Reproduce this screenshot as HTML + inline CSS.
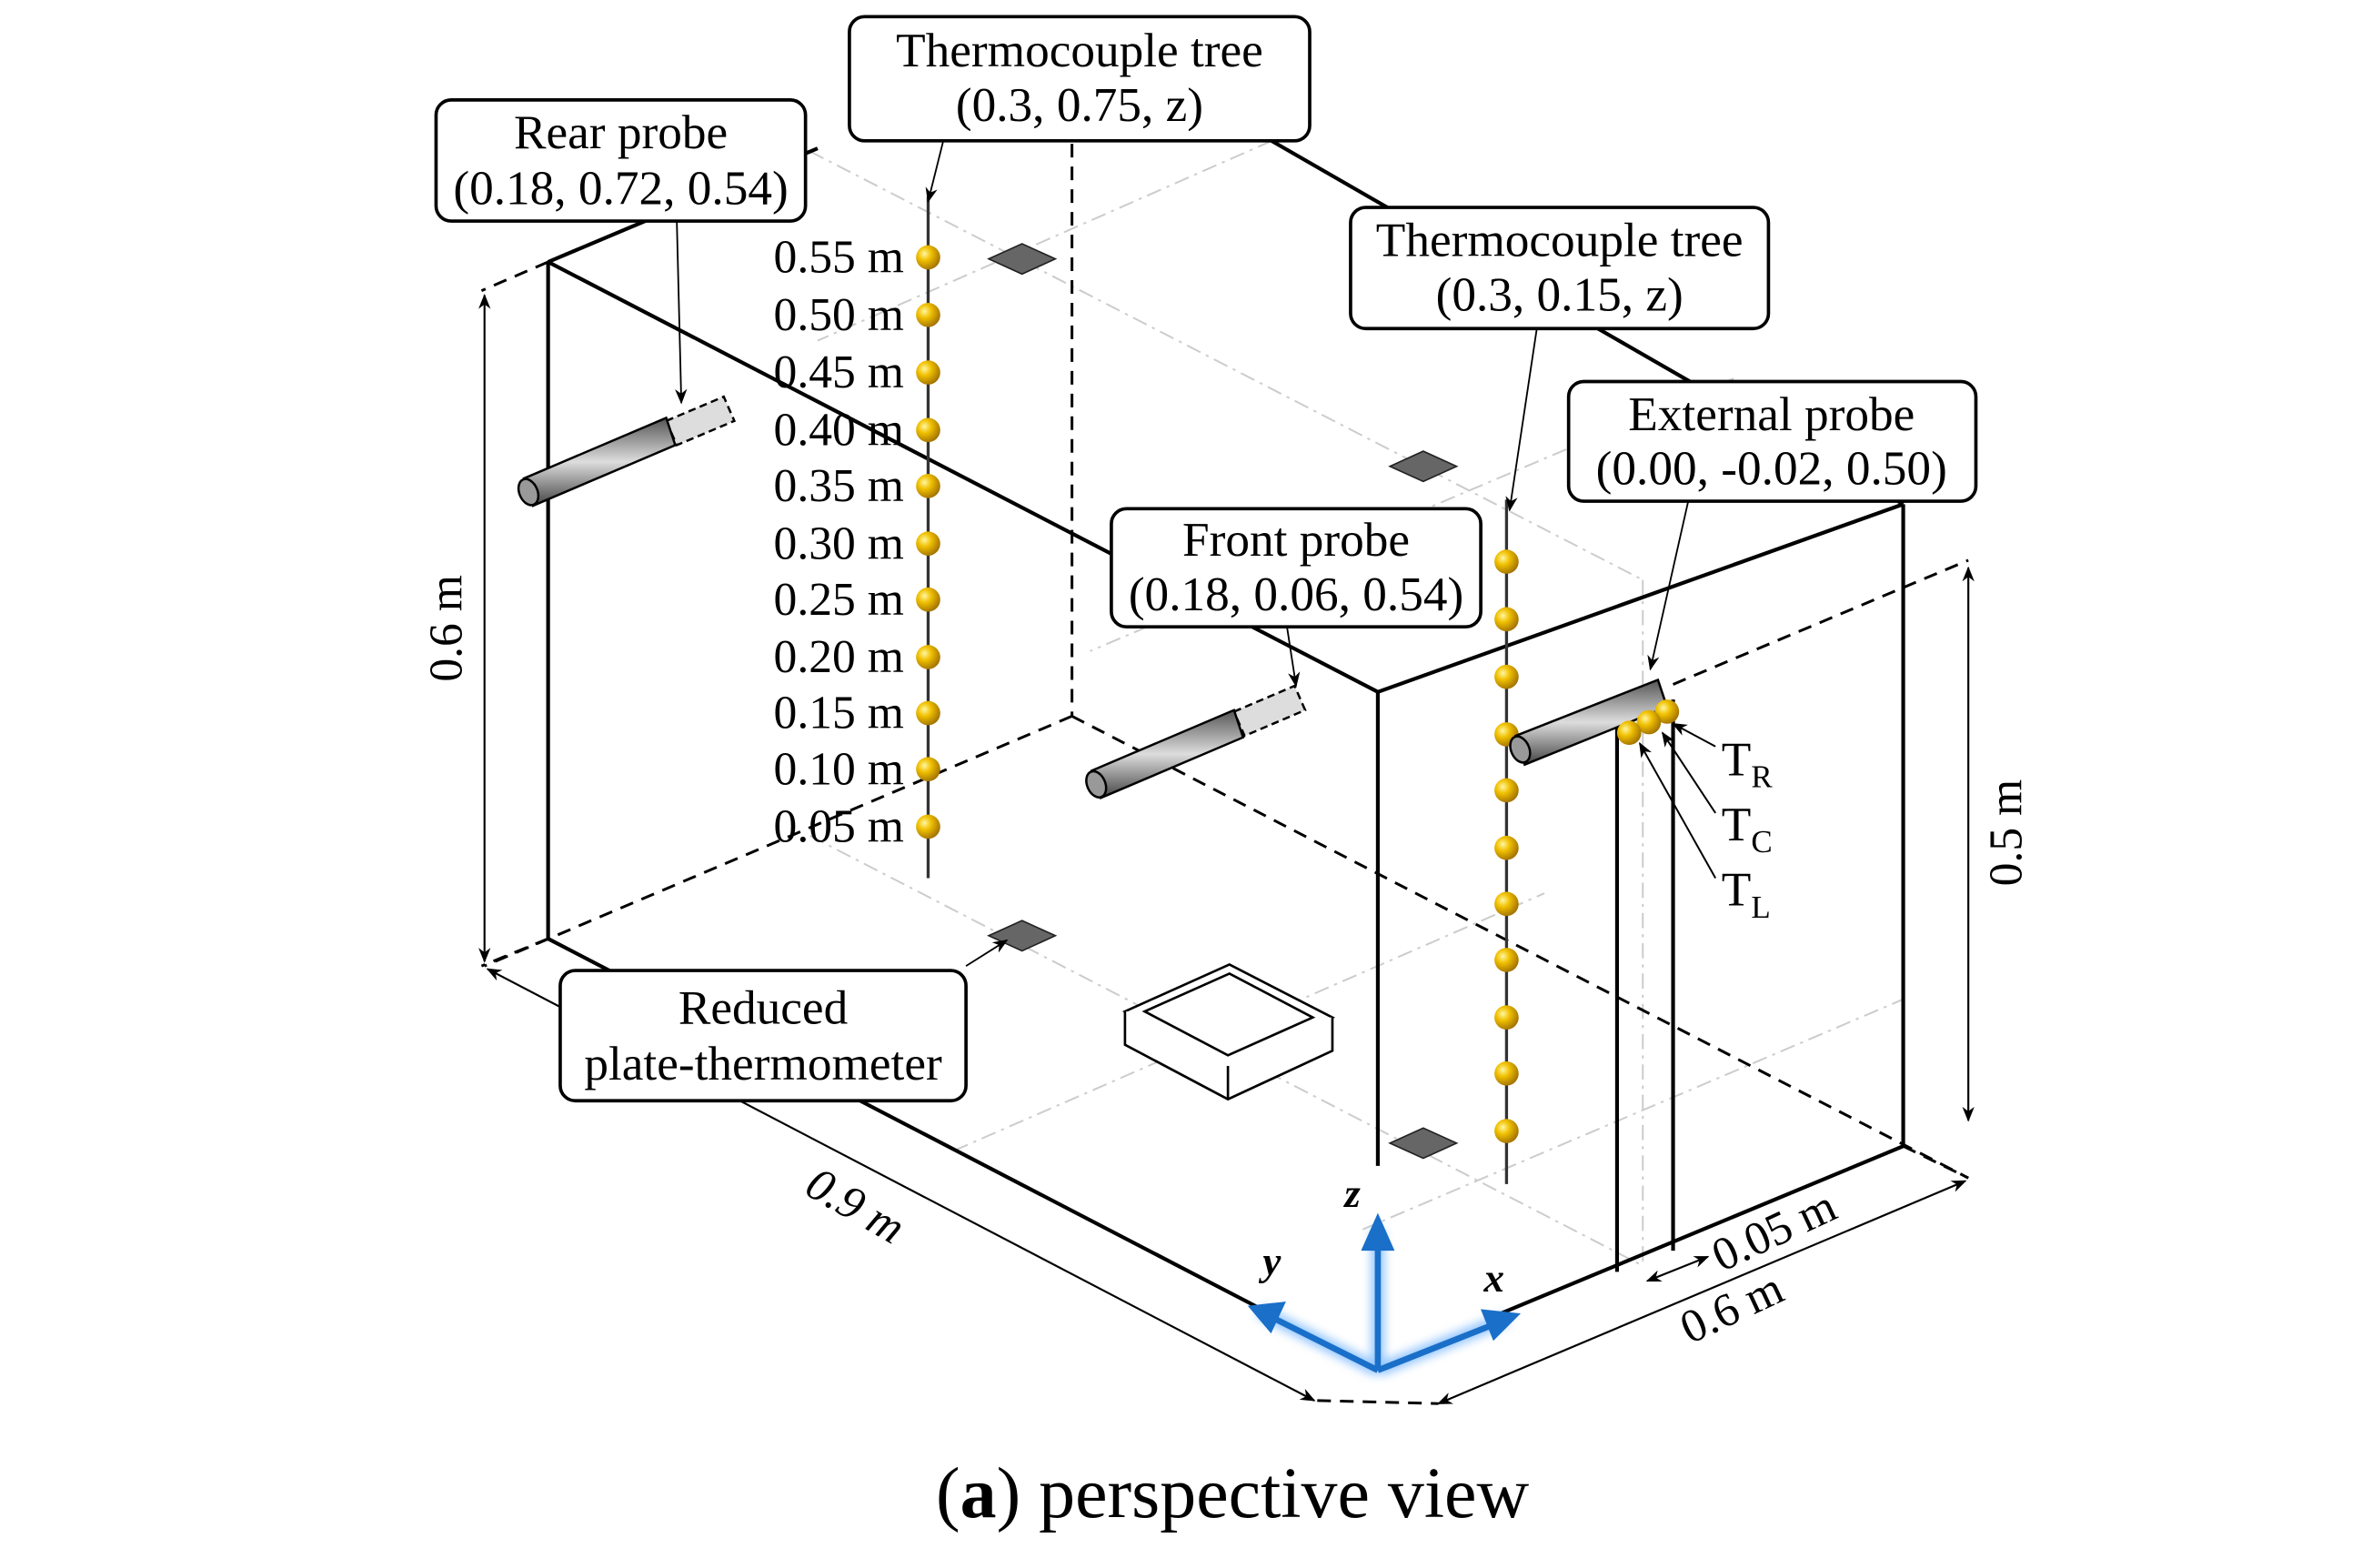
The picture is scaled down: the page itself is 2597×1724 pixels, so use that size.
<!DOCTYPE html>
<html><head><meta charset="utf-8"><style>html,body{margin:0;padding:0;background:#fff}svg{display:block}</style></head><body>
<svg width="2597" height="1724" viewBox="0 0 1560 1035.6" xmlns="http://www.w3.org/2000/svg" font-family="Liberation Serif, serif">
<defs>
<marker id="ar" markerWidth="10" markerHeight="8" refX="9" refY="4" orient="auto" markerUnits="userSpaceOnUse"><path d="M0,0 L10,4 L0,8 L3,4 z" fill="#000"/></marker>
<marker id="al" markerWidth="10" markerHeight="8" refX="1" refY="4" orient="auto" markerUnits="userSpaceOnUse"><path d="M10,0 L0,4 L10,8 L7,4 z" fill="#000"/></marker>
<radialGradient id="ball" cx="0.35" cy="0.35" r="0.7"><stop offset="0" stop-color="#fff6a0"/><stop offset="0.4" stop-color="#f0c000"/><stop offset="1" stop-color="#a07000"/></radialGradient>
<linearGradient id="cyl" x1="0" y1="0" x2="0" y2="1"><stop offset="0" stop-color="#555"/><stop offset="0.5" stop-color="#ddd"/><stop offset="1" stop-color="#444"/></linearGradient>
<filter id="glow"><feGaussianBlur stdDeviation="3"/></filter>
</defs>
<rect width="1560" height="1036" fill="#fff"/>
<g stroke="#ccc" stroke-width="1.2" stroke-dasharray="10,4,2,4" fill="none">
<line x1="535" y1="100" x2="1085" y2="383"/>
<line x1="840" y1="93" x2="540" y2="225"/>
<line x1="1145" y1="250" x2="720" y2="430"/>
<line x1="535" y1="552" x2="1085" y2="836"/>
<line x1="1085" y1="383" x2="1085" y2="836"/>
<line x1="630" y1="760" x2="1020" y2="590"/>
<line x1="900" y1="812" x2="1257" y2="660"/>
</g>
<g stroke="#000" stroke-width="1.8" stroke-dasharray="9,6" fill="none">
<line x1="708" y1="95" x2="708" y2="473"/>
<line x1="708" y1="473" x2="320" y2="638"/>
<line x1="708" y1="473" x2="1300" y2="778"/>
<line x1="362" y1="173" x2="318" y2="192"/>
<line x1="1105" y1="452" x2="1300" y2="370"/>
</g>
<g stroke="#000" stroke-width="2.5" fill="none">
<line x1="362" y1="173" x2="362" y2="620"/>
<line x1="362" y1="173" x2="910" y2="457"/>
<line x1="362" y1="173" x2="540" y2="98"/>
<line x1="838" y1="92" x2="1257" y2="333"/>
<line x1="910" y1="457" x2="1257" y2="333"/>
<line x1="910" y1="457" x2="910" y2="770"/>
<line x1="1257" y1="333" x2="1257" y2="757"/>
<line x1="362" y1="620" x2="830" y2="863"/>
<line x1="990" y1="868" x2="1257" y2="757"/>
<line x1="1068" y1="478" x2="1068" y2="840"/>
<line x1="1105" y1="462" x2="1105" y2="826"/>
</g>
<line x1="362" y1="620" x2="318" y2="638" stroke="#000" stroke-width="1.8" stroke-dasharray="9,6"/>
<line x1="1257" y1="757" x2="1300" y2="778" stroke="#000" stroke-width="1.8" stroke-dasharray="9,6"/>
<line x1="870" y1="925" x2="950" y2="927" stroke="#000" stroke-width="1.8" stroke-dasharray="9,6"/>
<g stroke="#000" stroke-width="1.3" fill="none">
<line x1="320" y1="195" x2="320" y2="635" marker-start="url(#al)" marker-end="url(#ar)"/>
<line x1="1300" y1="375" x2="1300" y2="740" marker-start="url(#al)" marker-end="url(#ar)"/>
<line x1="322" y1="640" x2="868" y2="925" marker-start="url(#al)" marker-end="url(#ar)"/>
<line x1="950" y1="927" x2="1298" y2="780" marker-start="url(#al)" marker-end="url(#ar)"/>
<line x1="1088" y1="846" x2="1128" y2="830" marker-start="url(#al)" marker-end="url(#ar)"/>
</g>
<text x="305" y="415" font-size="31" transform="rotate(-90 305 415)" text-anchor="middle">0.6 m</text>
<text x="1335" y="550" font-size="31" transform="rotate(-90 1335 550)" text-anchor="middle">0.5 m</text>
<text x="560" y="805" font-size="31" font-style="italic" transform="rotate(30 560 805)" text-anchor="middle">0.9 m</text>
<text x="1148" y="873" font-size="31" transform="rotate(-25 1148 873)" text-anchor="middle">0.6 m</text>
<text x="1176" y="822" font-size="31" transform="rotate(-25 1176 822)" text-anchor="middle">0.05 m</text>
<g fill="#666" stroke="#222" stroke-width="1">
<path d="M653,171 L675,161 L697,171 L675,181 Z"/>
<path d="M918,308 L940,298 L962,308 L940,318 Z"/>
<path d="M653,618 L675,608 L697,618 L675,628 Z"/>
<path d="M918,755 L940,745 L962,755 L940,765 Z"/>
</g>
<g stroke="#000" stroke-width="1.6" fill="#fff">
<path d="M743,668 L812,637 L880,672 L811,704 Z"/>
<path d="M743,668 L743,690 L811,726 L880,694 L880,672"/>
<line x1="811" y1="704" x2="811" y2="726"/>
<path d="M756,668 L812,643 L867,672 L811,697 Z" fill="none"/>
</g>
<line x1="613" y1="130" x2="613" y2="580" stroke="#333" stroke-width="2"/>
<line x1="995" y1="330" x2="995" y2="782" stroke="#333" stroke-width="2"/>
<g fill="url(#ball)">
<circle cx="613" cy="170" r="8"/><circle cx="613" cy="208" r="8"/><circle cx="613" cy="246" r="8"/><circle cx="613" cy="284" r="8"/><circle cx="613" cy="321" r="8"/><circle cx="613" cy="359" r="8"/><circle cx="613" cy="396" r="8"/><circle cx="613" cy="434" r="8"/><circle cx="613" cy="471" r="8"/><circle cx="613" cy="508" r="8"/><circle cx="613" cy="546" r="8"/>
<circle cx="995" cy="371" r="8"/><circle cx="995" cy="409" r="8"/><circle cx="995" cy="447" r="8"/><circle cx="995" cy="485" r="8"/><circle cx="995" cy="522" r="8"/><circle cx="995" cy="560" r="8"/><circle cx="995" cy="597" r="8"/><circle cx="995" cy="634" r="8"/><circle cx="995" cy="672" r="8"/><circle cx="995" cy="709" r="8"/><circle cx="995" cy="747" r="8"/>
</g>
<g font-size="31" text-anchor="end">
<text x="597" y="180">0.55 m</text><text x="597" y="218">0.50 m</text><text x="597" y="256">0.45 m</text><text x="597" y="294">0.40 m</text><text x="597" y="331">0.35 m</text><text x="597" y="369">0.30 m</text><text x="597" y="406">0.25 m</text><text x="597" y="444">0.20 m</text><text x="597" y="481">0.15 m</text><text x="597" y="518">0.10 m</text><text x="597" y="556">0.05 m</text>
</g>
<g stroke="#000" stroke-width="1.5">
<path d="M440,278 L478,262 L485,278 L447,294 Z" fill="#ddd" stroke-dasharray="5,3"/>
<path d="M346,316 L440,276 L446,294 L352,334 Z" fill="url(#cyl)"/>
<ellipse cx="349" cy="325" rx="6" ry="9" fill="#999" transform="rotate(-23 349 325)"/>
<path d="M815,470 L855,453 L862,469 L822,486 Z" fill="#ddd" stroke-dasharray="5,3"/>
<path d="M721,509 L815,469 L821,487 L727,527 Z" fill="url(#cyl)"/>
<ellipse cx="724" cy="518" rx="6" ry="9" fill="#999" transform="rotate(-23 724 518)"/>
<path d="M1001,486 L1095,449 L1101,467 L1007,505 Z" fill="url(#cyl)"/>
<ellipse cx="1004" cy="495" rx="6" ry="9" fill="#999" transform="rotate(-23 1004 495)"/>
</g>
<g fill="url(#ball)"><circle cx="1101" cy="470" r="8"/><circle cx="1089" cy="477" r="8"/><circle cx="1076" cy="484" r="8"/></g>
<g stroke="#000" stroke-width="1.2" fill="none">
<line x1="1133" y1="493" x2="1105" y2="478" marker-end="url(#ar)"/>
<line x1="1133" y1="537" x2="1098" y2="484" marker-end="url(#ar)"/>
<line x1="1133" y1="580" x2="1083" y2="491" marker-end="url(#ar)"/>
</g>
<g font-size="32"><text x="1137" y="512">T<tspan font-size="21" dy="8">R</tspan></text><text x="1137" y="555">T<tspan font-size="21" dy="8">C</tspan></text><text x="1137" y="598">T<tspan font-size="21" dy="8">L</tspan></text></g>
<g stroke="#000" stroke-width="1.1" fill="none">
<line x1="623" y1="93" x2="613" y2="133" marker-end="url(#ar)"/>
<line x1="447" y1="146" x2="450" y2="266" marker-end="url(#ar)"/>
<line x1="1015" y1="217" x2="997" y2="337" marker-end="url(#ar)"/>
<line x1="1115" y1="331" x2="1090" y2="442" marker-end="url(#ar)"/>
<line x1="850" y1="414" x2="856" y2="453" marker-end="url(#ar)"/>
<line x1="638" y1="638" x2="665" y2="621" marker-end="url(#ar)"/>
</g>
<g fill="#fff" stroke="#000" stroke-width="2.2">
<rect x="561" y="11" width="304" height="82" rx="10"/>
<rect x="288" y="66" width="244" height="80" rx="10"/>
<rect x="892" y="137" width="276" height="80" rx="10"/>
<rect x="1036" y="252" width="269" height="79" rx="10"/>
<rect x="734" y="336" width="244" height="78" rx="10"/>
<rect x="370" y="641" width="268" height="86" rx="10"/>
</g>
<g font-size="32" text-anchor="middle">
<text x="713" y="44">Thermocouple tree</text><text x="713" y="80">(0.3, 0.75, z)</text>
<text x="410" y="98">Rear probe</text><text x="410" y="135">(0.18, 0.72, 0.54)</text>
<text x="1030" y="169">Thermocouple tree</text><text x="1030" y="205">(0.3, 0.15, z)</text>
<text x="1170" y="284">External probe</text><text x="1170" y="320">(0.00, -0.02, 0.50)</text>
<text x="856" y="367">Front probe</text><text x="856" y="403">(0.18, 0.06, 0.54)</text>
<text x="504" y="676">Reduced</text><text x="504" y="713">plate-thermometer</text>
</g>
<g stroke="#6ab0ff" stroke-width="9" fill="none" filter="url(#glow)" opacity="0.7">
<line x1="910" y1="905" x2="910" y2="812"/><line x1="910" y1="905" x2="832" y2="866"/><line x1="910" y1="905" x2="995" y2="871"/>
</g>
<g stroke="#1a6fc8" stroke-width="4" fill="#1a6fc8">
<line x1="910" y1="905" x2="910" y2="822"/><path d="M902,824 L910,806 L918,824 Z"/>
<line x1="910" y1="905" x2="840" y2="870"/><path d="M846,862 L828,864 L839,877 Z"/>
<line x1="910" y1="905" x2="986" y2="875"/><path d="M981,867 L1000,869 L987,882 Z"/>
</g>
<g font-size="27" font-style="italic" font-weight="bold"><text x="888" y="797">z</text><text x="834" y="842">y</text><text x="980" y="853">x</text></g>
<text x="814" y="1002" font-size="48" text-anchor="middle">(<tspan font-weight="bold">a</tspan>) perspective view</text>
</svg>
</body></html>
